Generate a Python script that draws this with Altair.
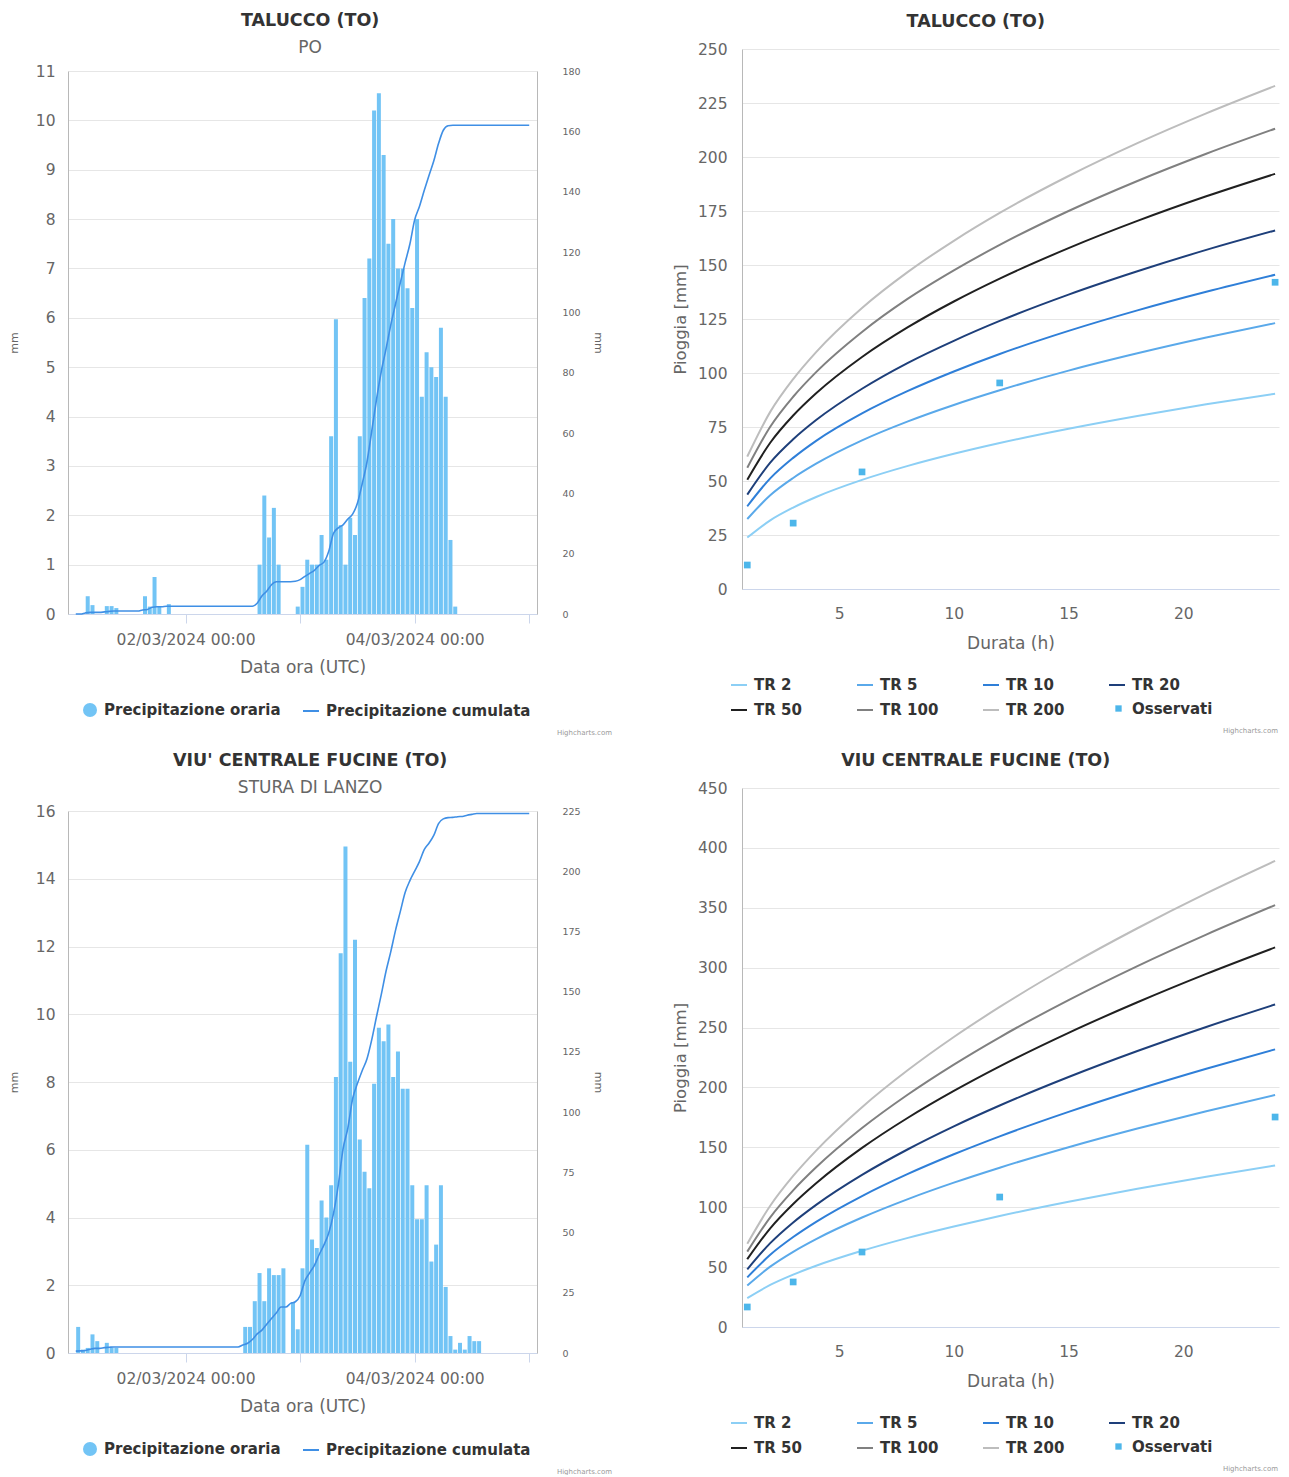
import altair as alt
import pandas as pd

FONT = "DejaVu Sans"
TXT = "#333333"
LBL = "#666666"
GRID = "#e6e6e6"
ASSE = "#ccd6eb"
COL_BARRE = "#72c4f5"
COL_CUM = "#3f8fe5"
COL_OSS = "#4db6ea"
TOP = 22  # blank band above the precipitation plots, as in the reference

# ---------------- hourly data (01/03/2024 01:00 -> 05/03/2024 00:00) -------------
ore = pd.date_range("2024-03-01 01:00", periods=96, freq="h").strftime("%Y-%m-%dT%H:%M:%S").tolist()

talucco_orari = [
    0, 0, 0.36, 0.18, 0, 0, 0.16, 0.16, 0.12, 0, 0, 0,
    0, 0, 0.36, 0.15, 0.75, 0.15, 0, 0.2, 0, 0, 0, 0,
    0, 0, 0, 0, 0, 0, 0, 0, 0, 0, 0, 0,
    0, 0, 1.0, 2.4, 1.55, 2.15, 1.0, 0, 0, 0, 0.15, 0.55,
    1.1, 1.0, 1.0, 1.6, 1.1, 3.6, 5.97, 1.8, 1.0, 1.95, 1.6, 3.6,
    6.4, 7.2, 10.2, 10.55, 9.3, 7.5, 8.0, 7.0, 7.0, 6.6, 6.2, 8.0,
    4.4, 5.3, 5.0, 4.8, 5.8, 4.4, 1.5, 0.15, 0, 0, 0, 0,
    0, 0, 0, 0, 0, 0, 0, 0, 0, 0, 0, 0,
]
viu_orari = [
    0.77, 0.1, 0.15, 0.55, 0.35, 0, 0.3, 0.15, 0.15, 0, 0, 0,
    0, 0, 0, 0, 0, 0, 0, 0, 0, 0, 0, 0,
    0, 0, 0, 0, 0, 0, 0, 0, 0, 0, 0, 0.77,
    0.77, 1.53, 2.36, 1.53, 2.5, 2.3, 2.3, 2.5, 0, 1.5, 0.7, 2.5,
    6.15, 3.35, 3.1, 4.5, 4.0, 4.95, 8.15, 11.8, 14.95, 8.6, 12.2, 6.3,
    5.35, 4.86, 7.95, 9.6, 9.2, 9.7, 8.15, 8.9, 7.8, 7.8, 4.95, 3.95,
    3.95, 4.95, 2.7, 3.2, 4.95, 1.95, 0.5, 0.1, 0.3, 0.1, 0.5, 0.35,
    0.35, 0, 0, 0, 0, 0, 0, 0, 0, 0, 0, 0,
]

# ---------------- IDF curves -------------
durate = [1, 2, 3, 4, 6, 8, 10, 12, 15, 18, 21, 24]
tr_nomi = ["TR 2", "TR 5", "TR 10", "TR 20", "TR 50", "TR 100", "TR 200"]
tr_colori = ["#8ccff5", "#5aa9ea", "#2f7fd8", "#1e3f7a", "#202020", "#808080", "#bdbdbd"]

talucco_tr2 = [23.8, 31.8, 37.7, 42.6, 50.5, 57.0, 62.6, 67.6, 74.2, 80.1, 85.5, 90.4]
talucco_tr5 = [32.4, 43.4, 51.4, 58.0, 68.8, 77.6, 85.2, 92.0, 101.1, 109.1, 116.4, 123.1]
talucco_tr10 = [38.3, 51.2, 60.7, 68.6, 81.3, 91.7, 100.7, 108.8, 119.5, 129.0, 137.6, 145.5]
talucco_tr20 = [43.7, 58.5, 69.3, 78.2, 92.7, 104.7, 114.9, 124.1, 136.3, 147.1, 157.0, 166.0]
talucco_tr50 = [50.6, 67.7, 80.3, 90.6, 107.4, 121.2, 133.1, 143.7, 157.8, 170.4, 181.8, 192.2]
talucco_tr100 = [56.1, 75.1, 89.0, 100.4, 119.0, 134.4, 147.5, 159.3, 175.0, 188.9, 201.5, 213.1]
talucco_tr200 = [61.3, 82.0, 97.2, 109.7, 130.1, 146.8, 161.2, 174.1, 191.2, 206.4, 220.2, 232.9]

viu_tr2 = [24.1, 35.1, 43.7, 51.1, 63.6, 74.4, 83.9, 92.7, 104.6, 115.4, 125.5, 134.9]
viu_tr5 = [34.6, 50.4, 62.8, 73.4, 91.4, 106.8, 120.5, 133.0, 150.1, 165.7, 180.2, 193.7]
viu_tr10 = [41.4, 60.3, 75.1, 87.8, 109.3, 127.8, 144.2, 159.2, 179.6, 198.3, 215.6, 231.8]
viu_tr20 = [48.1, 70.0, 87.3, 102.0, 127.0, 148.4, 167.5, 184.9, 208.7, 230.4, 250.5, 269.3]
viu_tr50 = [56.6, 82.4, 102.7, 120.0, 149.5, 174.7, 197.1, 217.6, 245.6, 271.1, 294.8, 316.9]
viu_tr100 = [62.9, 91.6, 114.1, 133.3, 166.1, 194.1, 219.1, 241.9, 272.9, 301.3, 327.6, 352.2]
viu_tr200 = [69.5, 101.2, 126.1, 147.3, 183.5, 214.5, 242.1, 267.2, 301.6, 332.9, 362.0, 389.1]

oss_durate = [1, 3, 6, 12, 24]
talucco_oss = [11.1, 30.5, 54.2, 95.4, 142.0]
viu_oss = [16.7, 37.6, 62.6, 108.5, 175.3]


def dt(day, h=0, m=0):
    return alt.DateTime(year=2024, month=3, date=day, hours=h, minutes=m)


def credito(x, y):
    return alt.Chart(alt.Data(values=[{"c": "Highcharts.com"}])).mark_text(
        font=FONT, fontSize=7, color="#999999", align="right", baseline="middle"
    ).encode(text="c:N", x=alt.value(x), y=alt.value(y))


def legenda(x, y, simbolo, size, **kw):
    return alt.Legend(
        title=None, orient="none", legendX=x, legendY=y, symbolType=simbolo,
        symbolSize=size, labelFont=FONT, labelFontSize=15, labelFontWeight="bold",
        labelColor=TXT, labelOffset=6, labelLimit=400, **kw
    )


def titolo(t, sub=None):
    if sub:
        return alt.TitleParams(text=t, subtitle=sub, font=FONT, fontSize=17.5, fontWeight="bold",
                               color=TXT, subtitleFont=FONT, subtitleFontSize=17,
                               subtitleColor=LBL, subtitlePadding=10.5, anchor="middle",
                               frame="bounds", offset=-6.5)
    return alt.TitleParams(text=t, font=FONT, fontSize=17.5, fontWeight="bold", color=TXT,
                           anchor="middle", frame="bounds", offset=12)


def pannello_pioggia(tit, sub, valori, ymax, ystep, y2max, y2step, w, h):
    H = h + TOP
    df = pd.DataFrame({"t": ore, "mm": valori})
    base = alt.Chart(df)
    xscale = alt.Scale(domain=[dt(1, 0, 25), dt(5, 0, 35)])
    xaxis = alt.Axis(
        values=[dt(2), dt(3), dt(4), dt(5)], format="%d/%m/%Y %H:%M",
        labelExpr="(date(datum.value) == 3 || date(datum.value) == 5) ? '' : datum.label",
        grid=False, tickSize=9, tickColor=ASSE, domainColor=ASSE, labelFont=FONT,
        labelFontSize=15.5, labelColor=LBL, labelPadding=9, titleFont=FONT, titleFontSize=17,
        titleColor=LBL, titleFontWeight="normal", titlePadding=12, labelFlush=False,
    )
    barre = base.transform_calculate(
        tb="timeOffset('minutes', toDate(datum.t), 30)",
        serie="'Precipitazione oraria'",
    ).mark_bar(size=4).encode(
        x=alt.X("tb:T", scale=xscale, axis=xaxis, title="Data ora (UTC)"),
        y=alt.Y("mm:Q", scale=alt.Scale(domain=[0, ymax], nice=False, range=[H, TOP]),
                axis=alt.Axis(values=list(range(0, ymax + 1, ystep)), title="mm", grid=True,
                              gridColor=GRID, ticks=False, domain=True, domainColor="#b8b8b8",
                              labelFont=FONT, labelFontSize=15.5, labelColor=LBL, labelPadding=13,
                              titleFont=FONT, titleFontSize=11, titleColor=LBL,
                              titleFontWeight="normal", titlePadding=16)),
        color=alt.Color("serie:N", scale=alt.Scale(domain=["Precipitazione oraria"], range=[COL_BARRE]),
                        legend=legenda(14, H + 88, "circle", 196)),
    )
    linea = base.transform_window(
        cum="sum(mm)", frame=[None, 0], sort=[alt.SortField("t", order="ascending")]
    ).transform_calculate(serie2="'Precipitazione cumulata'").mark_line(
        strokeWidth=1.6, interpolate="monotone"
    ).encode(
        x=alt.X("t:T", scale=xscale, axis=xaxis, title="Data ora (UTC)"),
        y=alt.Y("cum:Q", scale=alt.Scale(domain=[0, y2max], nice=False, range=[H, TOP]),
                axis=alt.Axis(orient="right", values=list(range(0, y2max + 1, y2step)), title="mm",
                              grid=False, ticks=False, domain=True, domainColor="#b8b8b8",
                              labelFont=FONT, labelFontSize=9.5, labelColor=LBL, labelPadding=25,
                              titleFont=FONT, titleFontSize=11, titleColor=LBL,
                              titleFontWeight="normal", titlePadding=12)),
        stroke=alt.Stroke("serie2:N", scale=alt.Scale(domain=["Precipitazione cumulata"], range=[COL_CUM]),
                          legend=legenda(234, H + 88, "stroke", 256, symbolStrokeWidth=2)),
    )
    return alt.layer(barre, linea, credito(w + 75, H + 119)).resolve_scale(
        y="independent"
    ).properties(width=w, height=H, title=titolo(tit, sub))


def pannello_idf(tit, curve, oss, ymax, ystep, w, h):
    righe = []
    for nome, vals in zip(tr_nomi, curve):
        for d, v in zip(durate, vals):
            righe.append({"TR": nome, "d": d, "v": v})
    df = pd.DataFrame(righe)
    xs = alt.X("d:Q", scale=alt.Scale(domain=[0.77, 24.17], nice=False, zero=False),
               axis=alt.Axis(values=[5, 10, 15, 20], title="Durata (h)", grid=False, ticks=False,
                             domainColor=ASSE, labelFont=FONT, labelFontSize=15.5, labelColor=LBL,
                             labelPadding=17, titleFont=FONT, titleFontSize=17, titleColor=LBL,
                             titleFontWeight="normal", titlePadding=14))
    ys = alt.Y("v:Q", scale=alt.Scale(domain=[0, ymax], nice=False),
               axis=alt.Axis(values=list(range(0, ymax + 1, ystep)), title="Pioggia [mm]",
                             grid=True, gridColor=GRID, ticks=False, domain=True,
                             domainColor="#b8b8b8", labelFont=FONT, labelFontSize=15.5,
                             labelColor=LBL, labelPadding=15, titleFont=FONT, titleFontSize=16.5,
                             titleColor=LBL, titleFontWeight="normal", titlePadding=9))
    linee = alt.Chart(df).mark_line(strokeWidth=2, interpolate="monotone").encode(
        x=xs, y=ys,
        stroke=alt.Stroke("TR:N", scale=alt.Scale(domain=tr_nomi, range=tr_colori),
                          legend=legenda(-12, h + 87, "stroke", 256, symbolStrokeWidth=2, columns=4,
                                         direction="horizontal", gridAlign="all",
                                         columnPadding=40, rowPadding=8)),
    )
    dfo = pd.DataFrame({"d": oss_durate, "v": oss, "serie": ["Osservati"] * len(oss)})
    punti = alt.Chart(dfo).mark_point(shape="square", filled=True, size=45, opacity=1).encode(
        x=xs, y=ys,
        color=alt.Color("serie:N", scale=alt.Scale(domain=["Osservati"], range=[COL_OSS]),
                        legend=legenda(369, h + 112, "square", 40)),
    )
    return alt.layer(linee, punti, credito(w - 1, h + 142)).properties(
        width=w, height=h, title=titolo(tit)
    )


tl = pannello_pioggia("TALUCCO (TO)", "PO", talucco_orari, 11, 1, 180, 20, 469, 543)
tr = pannello_idf("TALUCCO (TO)",
                  [talucco_tr2, talucco_tr5, talucco_tr10, talucco_tr20, talucco_tr50,
                   talucco_tr100, talucco_tr200], talucco_oss, 250, 25, 537, 540)
bl = pannello_pioggia("VIU' CENTRALE FUCINE (TO)", "STURA DI LANZO", viu_orari, 16, 2, 225, 25, 469, 542)
br = pannello_idf("VIU CENTRALE FUCINE (TO)",
                  [viu_tr2, viu_tr5, viu_tr10, viu_tr20, viu_tr50, viu_tr100, viu_tr200],
                  viu_oss, 450, 50, 537, 539)

col_sx = alt.vconcat(tl, bl, spacing=15).resolve_scale(color="independent", stroke="independent")
col_dx = alt.vconcat(tr, br, spacing=17).resolve_scale(color="independent", stroke="independent")

chart = alt.hconcat(col_sx, col_dx, spacing=60).resolve_scale(
    color="independent", stroke="independent"
).properties(
    padding={"left": 0, "top": 3, "right": 0, "bottom": 0}, background="white"
).configure_view(strokeWidth=0)

chart.save("out.html", embed_options={"renderer": "svg", "actions": False})
